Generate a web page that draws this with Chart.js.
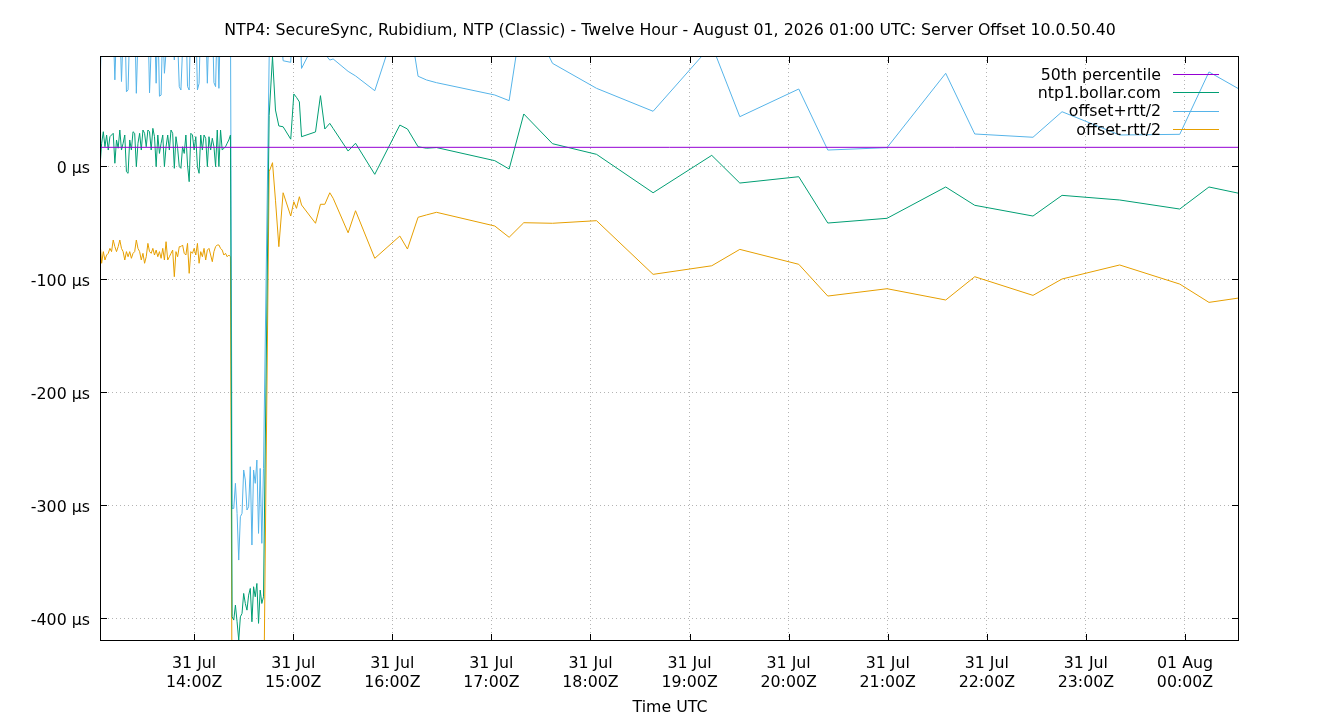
<!DOCTYPE html>
<html><head><meta charset="utf-8">
<script src="https://cdn.jsdelivr.net/npm/chart.js@4"></script>
<style>html,body{margin:0;padding:0;background:#fff;}canvas{display:block;}</style>
</head><body>
<canvas id="c" width="1340" height="720"></canvas>
<script>
const chartTitle = "NTP4: SecureSync, Rubidium, NTP (Classic) - Twelve Hour - August 01, 2026 01:00 UTC: Server Offset 10.0.50.40";
const xAxisTitle = "Time UTC";
const seriesNames = ["50th percentile", "ntp1.bollar.com", "offset+rtt/2", "offset-rtt/2"];
const seriesColors = ["#9400d3", "#009e73", "#56b4e9", "#e69f00"];
const percentile50 = 16.8;
const xMin = 13.05, xMax = 24.545;
const yMin = -420, yMax = 97.6;
const xTickHours = [14, 15, 16, 17, 18, 19, 20, 21, 22, 23, 24];
const yTickValues = [0, -100, -200, -300, -400];

// one-minute samples from 13:03 to 14:42 (minutes of day)
const denseStartMinute = 783;
const denseOffset = [
 -0.3,20.4,30.6,17.3,27.7,14.4,26.2,27.7,29.2,2.7,
 23.3,16.0,32.1,14.4,20.4,27.7,-4.8,-6.2,23.3,14.4,
 30.6,29.2,-0.3,20.4,29.2,14.4,32.1,29.2,17.3,32.1,
 30.6,14.4,33.6,26.2,-0.3,27.7,11.4,20.4,27.7,-0.3,
 17.3,27.7,14.4,32.1,29.2,-1.8,26.2,16.0,-0.3,-1.8,
 17.3,11.4,27.7,1.2,-13.6,29.2,27.7,14.4,26.2,-0.3,
 -6.2,27.7,14.4,27.7,24.8,-0.3,26.2,14.4,24.8,17.3,
 -0.3,32.1,-0.3,32.1,14.4,16.0,17.3,20.4,23.3,27.7,
 -398.6,-401.5,-388.2,-403.0,-419.2,-398.6,-395.6,-377.9,-386.8,-392.7,
 -379.4,-373.5,-403.0,-372.0,-380.9,-369.1,-404.4,-375.0,-386.8,-380.9];
const densePlus = [
 66.1,126.6,136.7,117.5,133.9,105.8,125.0,130.9,123.6,76.5,
 122.1,103.1,129.4,75.0,116.3,138.3,65.9,67.6,122.1,110.2,
 138.2,133.9,64.6,113.4,133.9,111.7,141.2,144.2,114.6,132.4,
 65.0,105.8,139.8,130.9,73.5,135.4,62.0,63.0,128.0,82.3,
 101.3,138.3,108.8,141.2,132.5,94.1,127.9,112.0,70.5,67.5,
 104.2,99.8,133.9,70.6,67.5,133.9,132.4,101.4,130.9,67.6,
 73.4,130.9,108.8,128.0,132.5,73.5,125.0,107.3,134.0,74.0,
 70.5,133.8,69.0,136.8,102.9,110.5,111.6,120.8,125.1,135.4,
 -302.7,-302.7,-280.5,-307.1,-348.4,-310.0,-307.1,-268.7,-277.6,-304.1,
 -301.2,-265.8,-335.1,-268.7,-280.5,-259.9,-324.8,-267.3,-333.6,-267.3];
const denseMinus = [
 -66.7,-85.8,-75.5,-82.9,-78.5,-77.0,-72.6,-75.5,-65.2,-71.1,
 -75.5,-71.1,-65.2,-72.6,-75.5,-82.9,-75.5,-80.0,-75.5,-81.4,
 -77.0,-75.5,-65.2,-72.6,-75.5,-82.9,-77.0,-85.8,-80.0,-68.2,
 -75.5,-77.0,-72.6,-78.5,-74.1,-80.0,-75.5,-81.4,-72.6,-82.9,
 -66.7,-82.9,-80.0,-77.0,-74.1,-97.7,-75.5,-80.0,-71.1,-71.1,
 -69.6,-77.0,-78.5,-68.2,-94.7,-75.5,-77.0,-72.6,-78.5,-68.2,
 -85.8,-75.5,-80.0,-72.6,-82.9,-74.1,-72.6,-78.5,-84.4,-75.5,
 -71.1,-69.6,-69.6,-72.6,-74.1,-78.5,-77.0,-80.0,-78.5,-80.0,
 -494.5,-500.3,-495.9,-498.9,-490.0,-487.2,-484.1,-487.1,-496.0,-481.3,
 -457.6,-481.2,-470.9,-475.3,-481.3,-478.3,-484.0,-482.7,-440.0,-494.5];

// sparser samples afterwards (hours of 31 Jul, 24+ = 01 Aug)
const sparseHours = [14.757,14.791,14.821,14.855,14.898,14.975,15.006,15.033,15.062,15.084,
 15.225,15.275,15.319,15.369,15.403,15.554,15.629,15.823,16.076,16.153,
 16.26,16.345,16.446,17.034,17.179,17.327,17.617,18.061,18.632,19.224,
 19.507,20.102,20.395,20.993,21.585,21.878,22.466,22.759,23.341,23.947,24.242,24.545];
const sparseOffset = [45,97,49.8,35.7,35,24,64,61,57,26.2,
 30.4,62.5,33,38,33.5,13.5,20.4,-7.1,36.5,33,
 17.3,16,16.6,5,-2.4,46.3,20,10.6,-23.4,9.7,
 -14.8,-9.2,-50.2,-46,-18.3,-34.5,-44,-25.7,-29.8,-37.8,-18.3,-23.9];
const sparsePlus = [95,190,129.6,142.5,93.4,92,159,159,141,86.6,
 111,158.6,99.6,94,95,84,80,66.9,134.7,139,
 79.7,76.4,74,63.1,58.1,142.5,91.1,69,48.7,107.4,
 43.9,68.4,14.4,16.5,82.3,28.6,25.7,48.3,27.7,28.3,83.5,68.4];
const sparseMinus = [-4.8,3.2,-30,-71.1,-23.4,-44,-31.3,-37.2,-26.9,-34.2,
 -50.4,-33.6,-33.6,-23.4,-28.3,-58.8,-39.3,-81.4,-61.7,-73.2,
 -45.1,-43,-40.7,-52.8,-62.8,-49.9,-50.4,-48.1,-95.6,-88,
 -73.5,-86.7,-114.8,-108.3,-118.3,-97.7,-114.2,-99.7,-87.3,-104.2,-120.4,-116.5];

const denseHours = denseOffset.map((_, i) => (denseStartMinute + i) / 60);
const allHours = denseHours.concat(sparseHours);
const toPts = vals => vals.map((v, i) => ({x: allHours[i], y: v}));
const offsetPts = toPts(denseOffset.concat(sparseOffset));
const plusPts = toPts(densePlus.concat(sparsePlus));
const minusPts = toPts(denseMinus.concat(sparseMinus));

const FONT = "DejaVu Sans";
const FSIZE = 15.8;
Chart.defaults.font.family = FONT;
Chart.defaults.font.size = FSIZE;
Chart.defaults.color = "#000";

const lineDs = (i, data) => ({
  label: seriesNames[i], data, borderColor: seriesColors[i], backgroundColor: seriesColors[i],
  borderWidth: 1, pointRadius: 0, fill: false, tension: 0
});

const gnuplotDeco = {
  id: "gnuplotDeco",
  afterDraw(chart) {
    const {ctx, chartArea: a, scales} = chart;
    ctx.save();
    ctx.strokeStyle = "#000"; ctx.lineWidth = 1;
    ctx.strokeRect(Math.round(a.left) + 0.5, Math.round(a.top) + 0.5, Math.round(a.right - a.left) - 1, Math.round(a.bottom - a.top) - 1);
    ctx.beginPath();
    const L = 7;
    xTickHours.forEach(h => {
      const x = Math.round(scales.x.getPixelForValue(h)) + 0.5;
      ctx.moveTo(x, a.top); ctx.lineTo(x, a.top + L);
      ctx.moveTo(x, a.bottom); ctx.lineTo(x, a.bottom - L);
    });
    yTickValues.forEach(v => {
      const y = Math.round(scales.y.getPixelForValue(v)) + 0.5;
      ctx.moveTo(a.left, y); ctx.lineTo(a.left + L, y);
      ctx.moveTo(a.right, y); ctx.lineTo(a.right - L, y);
    });
    ctx.stroke();
    // legend
    ctx.font = FSIZE + "px " + FONT;
    ctx.textAlign = "right"; ctx.textBaseline = "middle";
    seriesNames.forEach((n, i) => {
      const y = 74 + i * 18.4;
      ctx.fillStyle = "#000";
      ctx.fillText(n, 1161, y + 1.5);
      ctx.strokeStyle = seriesColors[i];
      ctx.beginPath(); ctx.moveTo(1173, Math.round(y) + 0.5); ctx.lineTo(1219, Math.round(y) + 0.5); ctx.stroke();
    });
    // titles
    ctx.fillStyle = "#000";
    ctx.textAlign = "center";
    ctx.fillText(chartTitle, 670, 31);
    ctx.fillText(xAxisTitle, 670, 708);
    ctx.restore();
  }
};

new Chart(document.getElementById("c"), {
  type: "line",
  data: {
    datasets: [
      lineDs(0, [{x: xMin, y: percentile50}, {x: xMax, y: percentile50}]),
      lineDs(1, offsetPts),
      lineDs(2, plusPts),
      lineDs(3, minusPts)
    ]
  },
  options: {
    responsive: false, animation: false, devicePixelRatio: 1,
    parsing: false, normalized: true,
    layout: {padding: {top: 56, right: 101, left: 0, bottom: 0}},
    plugins: {legend: {display: false}, title: {display: false}, tooltip: {enabled: false}},
    scales: {
      x: {
        type: "linear", min: xMin, max: xMax,
        afterBuildTicks: s => { s.ticks = xTickHours.map(v => ({value: v})); },
        afterFit: s => { s.height = 79; },
        grid: {color: "#b4b4b4", lineWidth: 1, drawTicks: false},
        border: {display: false, dash: [1, 3]},
        ticks: {
          autoSkip: false, maxRotation: 0, padding: 13, color: "#000",
          callback: v => v >= 24 ? ["01 Aug", String(v - 24).padStart(2, "0") + ":00Z"] : ["31 Jul", String(v).padStart(2, "0") + ":00Z"]
        }
      },
      y: {
        type: "linear", min: yMin, max: yMax,
        afterBuildTicks: s => { s.ticks = yTickValues.map(v => ({value: v})); },
        afterFit: s => { s.width = 100; },
        grid: {color: "#b4b4b4", lineWidth: 1, drawTicks: false},
        border: {display: false, dash: [1, 3]},
        ticks: {autoSkip: false, padding: 10, labelOffset: 2.5, color: "#000", callback: v => v + " µs"}
      }
    }
  },
  plugins: [gnuplotDeco]
});
</script>
</body></html>
